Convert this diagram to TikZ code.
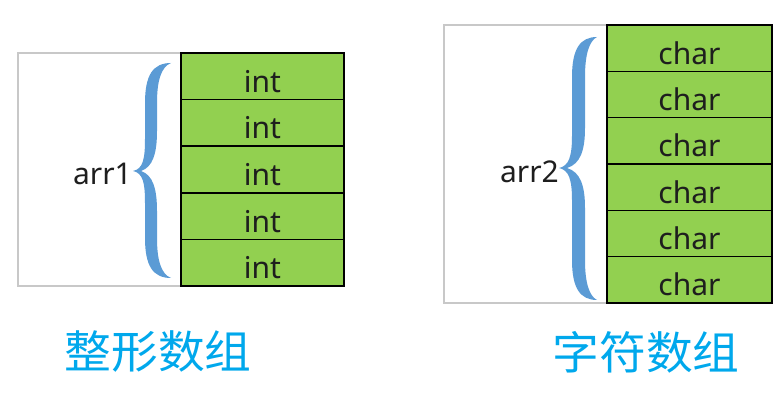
\documentclass[tikz,border=0pt]{standalone}
\usepackage{fontspec}
\setmainfont{Noto Sans}
\newfontfamily\cjk{Noto Sans CJK SC}
\definecolor{cellgreen}{HTML}{92D050}
\definecolor{framegray}{HTML}{C8C8C8}
\definecolor{braceblue}{HTML}{5B9BD5}
\definecolor{titleblue}{HTML}{00A8EC}
\definecolor{txt}{HTML}{1E1E1E}
% #1 end x, #2 centre x, #3 tip x, #4 top y, #5 tip y, #6 bottom y, #7 half width
\newcommand\mybrace[7]{%
  \fill[braceblue] (#3,#5)
    .. controls ({#3+10},{#5-2}) and ({#2-#7},{#5-12}) .. ({#2-#7},{#5-32})
    -- ({#2-#7},{#4+40})
    .. controls ({#2-#7},{#4+12}) and ({#2-#7+8},{#4}) .. (#1,#4)
    .. controls ({#2+#7+4},{#4+4}) and ({#2+#7},{#4+18}) .. ({#2+#7},{#4+40})
    -- ({#2+#7},{#5-40})
    .. controls ({#2+#7},{#5-18}) and ({#2+2},{#5-4}) .. ({#3+8},#5)
    .. controls ({#2+2},{#5+4}) and ({#2+#7},{#5+18}) .. ({#2+#7},{#5+40})
    -- ({#2+#7},{#6-40})
    .. controls ({#2+#7},{#6-18}) and ({#2+#7+4},{#6-4}) .. (#1,#6)
    .. controls ({#2-#7+8},{#6}) and ({#2-#7},{#6-12}) .. ({#2-#7},{#6-40})
    -- ({#2-#7},{#5+32})
    .. controls ({#2-#7},{#5+12}) and ({#3+10},{#5+2}) .. (#3,#5) -- cycle;}
\begin{document}
\begin{tikzpicture}[x=1pt,y=-1pt,
  cell/.style={draw=black,fill=cellgreen,line width=1.5pt,minimum width=163pt,inner sep=0pt,
    text=txt,font=\fontsize{30}{34}\selectfont,text height=35pt,text depth=3pt},
  frame/.style={draw=framegray,line width=1.4pt},
  lbl/.style={text=txt,font=\fontsize{30}{34}\selectfont,inner sep=0pt},
  title/.style={text=titleblue,font=\cjk\fontsize{45}{50}\selectfont,inner sep=0pt}]
\useasboundingbox (0,0) rectangle (780,403);
% left frame
\draw[frame] (181,53) -- (18,53) -- (18,286) -- (181,286);
% left cells
\foreach \i in {1,...,5}{
  \node[cell,minimum height=46.6pt] (a\i) at (262.5,{53+46.6*(\i-0.5)}) {int};
}
% left brace
\mybrace{171}{151}{133}{63}{171}{278}{6}
\node[lbl,anchor=base east] (arr1) at (132,185) {arr1};
% right frame
\draw[frame] (607,25) -- (444,25) -- (444,303) -- (607,303);
% right cells
\foreach \i in {1,...,6}{
  \node[cell,minimum height=46.33pt,minimum width=165pt] (b\i) at (689.5,{25+46.33*(\i-0.5)}) {char};
}
% right brace
\mybrace{597}{578.5}{559}{37}{168}{300}{6.5}
\node[lbl,anchor=base east] (arr2) at (559,183) {arr2};
% titles
\node[title] (t1) at (158,352) {\scalebox{1.04}[1]{整形数组}};
\node[title] (t2) at (646,352) {\scalebox{1.04}[1]{字符数组}};
\end{tikzpicture}
\end{document}
